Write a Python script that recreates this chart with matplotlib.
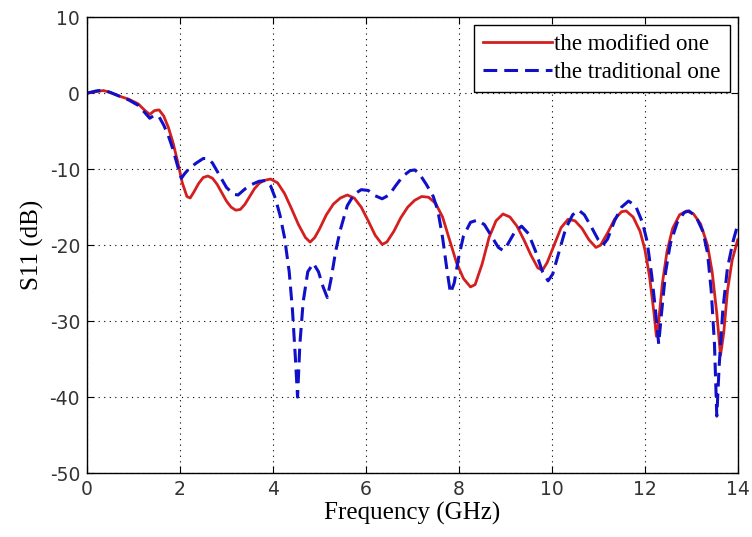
import numpy as np
import matplotlib
matplotlib.use("Agg")
import matplotlib.pyplot as plt

plt.rcParams["axes.unicode_minus"] = False

# S11 of the modified antenna (red)
freq_mod = [0.0, 0.2, 0.35, 0.5, 0.7, 0.9, 1.1, 1.25, 1.35, 1.45, 1.55, 1.65, 1.75, 1.85,
            1.95, 2.05, 2.15, 2.22, 2.3, 2.4, 2.5, 2.6, 2.7, 2.8, 2.9, 3.0, 3.1, 3.2, 3.3,
            3.4, 3.5, 3.6, 3.7, 3.8, 3.95, 4.1, 4.25, 4.4, 4.55, 4.7, 4.8, 4.9, 5.0, 5.15,
            5.3, 5.45, 5.6, 5.75, 5.9, 6.05, 6.2, 6.35, 6.45, 6.6, 6.75, 6.9, 7.05, 7.2,
            7.35, 7.5, 7.65, 7.8, 7.95, 8.1, 8.25, 8.35, 8.5, 8.65, 8.8, 8.95, 9.1, 9.25,
            9.4, 9.55, 9.7, 9.8, 9.9, 10.05, 10.2, 10.35, 10.5, 10.65, 10.8, 10.95, 11.05,
            11.2, 11.35, 11.5, 11.6, 11.75, 11.9, 12.0, 12.1, 12.2, 12.25, 12.3, 12.38,
            12.48, 12.6, 12.75, 12.9, 13.05, 13.2, 13.35, 13.45, 13.55, 13.63, 13.7, 13.78,
            13.88, 14.0]
s11_mod = [0.0, 0.2, 0.35, 0.1, -0.4, -0.8, -1.4, -2.3, -2.8, -2.3, -2.2, -3.0, -4.5, -6.5,
           -9.0, -11.8, -13.6, -13.8, -13.0, -11.9, -11.1, -10.9, -11.2, -12.0, -13.1, -14.2,
           -15.0, -15.4, -15.3, -14.6, -13.6, -12.6, -11.9, -11.5, -11.3, -11.8, -13.2, -15.2,
           -17.3, -19.0, -19.6, -19.0, -17.9, -16.0, -14.6, -13.8, -13.4, -13.8, -15.0, -16.8,
           -18.7, -19.9, -19.6, -18.2, -16.4, -15.0, -14.1, -13.6, -13.7, -14.5, -16.3, -19.3,
           -22.3, -24.4, -25.5, -25.2, -22.5, -19.0, -16.8, -15.9, -16.3, -17.5, -19.3, -21.3,
           -23.0, -23.3, -22.3, -20.0, -17.7, -16.6, -16.8, -17.8, -19.3, -20.3, -20.0, -18.4,
           -16.6, -15.6, -15.5, -16.3, -18.2, -20.5, -24.0, -29.0, -32.0, -30.0, -25.0, -20.8,
           -17.8, -16.0, -15.5, -15.9, -17.2, -20.0, -23.5, -29.0, -34.5, -31.5, -26.0, -22.0,
           -19.3]

# S11 of the traditional antenna (blue dashed)
freq_trad = [0.0, 0.2, 0.35, 0.5, 0.7, 0.9, 1.1, 1.25, 1.35, 1.45, 1.55, 1.65, 1.75, 1.85,
             1.95, 2.03, 2.1, 2.2, 2.35, 2.5, 2.6, 2.7, 2.85, 3.0, 3.15, 3.25, 3.4, 3.55, 3.7,
             3.85, 3.95, 4.05, 4.15, 4.25, 4.35, 4.42, 4.48, 4.53, 4.58, 4.65, 4.75, 4.87,
             4.98, 5.08, 5.17, 5.25, 5.35, 5.45, 5.6, 5.75, 5.9, 6.05, 6.2, 6.35, 6.5, 6.65,
             6.8, 6.95, 7.05, 7.15, 7.3, 7.45, 7.55, 7.65, 7.75, 7.82, 7.9, 8.0, 8.1, 8.25,
             8.4, 8.55, 8.7, 8.85, 8.95, 9.05, 9.2, 9.35, 9.5, 9.65, 9.8, 9.92, 10.02, 10.15,
             10.3, 10.45, 10.58, 10.7, 10.85, 11.0, 11.1, 11.2, 11.35, 11.5, 11.65, 11.8,
             11.95, 12.05, 12.15, 12.23, 12.3, 12.36, 12.45, 12.55, 12.7, 12.85, 12.95, 13.1,
             13.25, 13.35, 13.43, 13.5, 13.55, 13.6, 13.68, 13.78, 13.9, 14.0]
s11_trad = [0.0, 0.3, 0.4, 0.1, -0.4, -0.9, -1.6, -2.6, -3.3, -2.9, -3.1, -4.2, -5.6, -7.4,
            -9.6, -11.2, -10.6, -9.9, -9.2, -8.6, -8.6, -9.2, -10.8, -12.4, -13.3, -13.4,
            -12.6, -12.0, -11.6, -11.5, -12.2, -13.8, -16.0, -19.0, -23.5, -28.5, -34.5,
            -40.0, -33.0, -27.5, -23.5, -22.4, -23.5, -25.5, -26.9, -24.5, -20.8, -18.0,
            -14.8, -13.3, -12.7, -12.8, -13.5, -13.9, -13.4, -12.1, -10.9, -10.2, -10.1,
            -10.6, -12.0, -13.6, -15.5, -19.0, -23.5, -26.3, -25.0, -21.5, -18.8, -17.0,
            -16.7, -17.3, -18.8, -20.3, -20.7, -19.9, -18.3, -17.5, -18.5, -20.8, -23.5,
            -24.7, -23.8, -21.0, -17.8, -16.0, -15.4, -16.0, -17.6, -19.3, -20.0, -19.2,
            -16.8, -15.0, -14.2, -14.8, -17.0, -19.5, -24.0, -28.5, -33.0, -29.0, -23.5,
            -19.8, -17.0, -15.7, -15.5, -16.2, -18.2, -21.0, -26.0, -33.0, -42.5, -36.0,
            -28.5, -23.0, -19.5, -17.3]

x_ticks = [0, 2, 4, 6, 8, 10, 12, 14]
y_ticks = [10, 0, -10, -20, -30, -40, -50]

fig = plt.figure(figsize=(7.52, 5.37), dpi=100)
ax = fig.add_axes([0.1157, 0.119, 0.8653, 0.849])

ax.plot(freq_mod, s11_mod, color="#d41f1f", lw=2.0, label="the modified one")
ax.plot(freq_trad, s11_trad, color="#1010c8", lw=2.2, ls=(0, (4.5, 2.3)),
        label="the traditional one")

ax.set_xlim(0, 14)
ax.set_ylim(-50, 10)
ax.set_xticks(x_ticks)
ax.set_yticks(y_ticks)
ax.grid(True, color="black", ls=(0, (1, 4)), lw=0.8)
ax.tick_params(direction="in", top=True, right=True, length=5,
               labelsize=13.5, pad=5)
for lab in ax.get_xticklabels() + ax.get_yticklabels():
    lab.set_fontfamily("DejaVu Sans")
    lab.set_color("#333333")
for sp in ax.spines.values():
    sp.set_linewidth(1.0)

ax.set_xlabel("Frequency (GHz)", family="Liberation Serif", fontsize=18, labelpad=2)
ax.set_ylabel("S11 (dB)", family="Liberation Serif", fontsize=18, labelpad=4)

leg = ax.legend(loc="upper right", prop={"family": "Liberation Serif", "size": 16.5},
                fancybox=False, edgecolor="black", framealpha=1, handlelength=3.0,
                handletextpad=0.1, borderaxespad=0.35, borderpad=0.4, labelspacing=0.3)
leg.get_frame().set_linewidth(1.0)

fig.savefig("out.png", dpi=100)
